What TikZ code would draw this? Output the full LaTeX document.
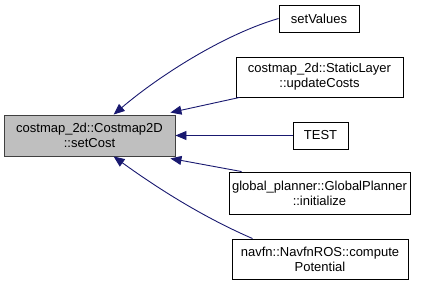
\documentclass[tikz,border=0pt]{standalone}
\usepackage{fontspec}
\setmainfont{Liberation Sans}
\usetikzlibrary{arrows.meta}
\definecolor{edgeblue}{HTML}{191970}
\definecolor{focusfill}{HTML}{BFBFBF}
\tikzset{
  fn/.style={draw=black, fill=white, line width=0.9pt, inner sep=0pt,
    align=center, font=\fontsize{13}{15}\selectfont},
  focus/.style={fn, fill=focusfill, draw=black!75},
  call/.style={draw=edgeblue, line width=0.9pt,
    -{Stealth[length=11pt,width=9pt,inset=0pt]}},
}
\begin{document}
\begin{tikzpicture}[x=1pt,y=-1pt]
\useasboundingbox (0,0) rectangle (423,286);

\node[focus, minimum width=171pt, minimum height=41pt] (main) at (89.5,135.5)
  {costmap\_2d::Costmap2D\\::setCost};
\node[fn, minimum width=80pt, minimum height=27pt] (sv) at (319,18.5) {setValues};
\node[fn, minimum width=167pt, minimum height=40pt] (sl) at (319.5,77)
  {costmap\_2d::StaticLayer\\::updateCosts};
\node[fn, minimum width=55pt, minimum height=27pt] (test) at (320.5,135.5) {TEST};
\node[fn, minimum width=181pt, minimum height=42pt] (gp) at (319.5,193)
  {global\_planner::GlobalPlanner\\::initialize};
\node[fn, minimum width=176pt, minimum height=40pt] (nav) at (320,259)
  {navfn::NavfnROS::compute\\Potential};

% attachment points on the called function
\coordinate (mtop) at (main.41);
\coordinate (mbot) at (main.-41);
\coordinate (mtr) at ([xshift=-5pt,yshift=2pt]main.north east);
\coordinate (mbr) at ([xshift=-5pt,yshift=-2pt]main.south east);

% attachment points on the callers
\coordinate (slout) at ([xshift=4pt]sl.south west);
\coordinate (gpout) at ([xshift=13pt]gp.north west);
\coordinate (navout) at ([xshift=21pt]nav.north west);

\draw[call] (sv.west) .. controls (225,34) and (160,75) .. (mtop);
\draw[call] (slout) -- (mtr);
\draw[call] (test.west) -- (main.east);
\draw[call] (gpout) -- (mbr);
\draw[call] (navout) .. controls (205,218) and (160,190) .. (mbot);
\end{tikzpicture}
\end{document}
